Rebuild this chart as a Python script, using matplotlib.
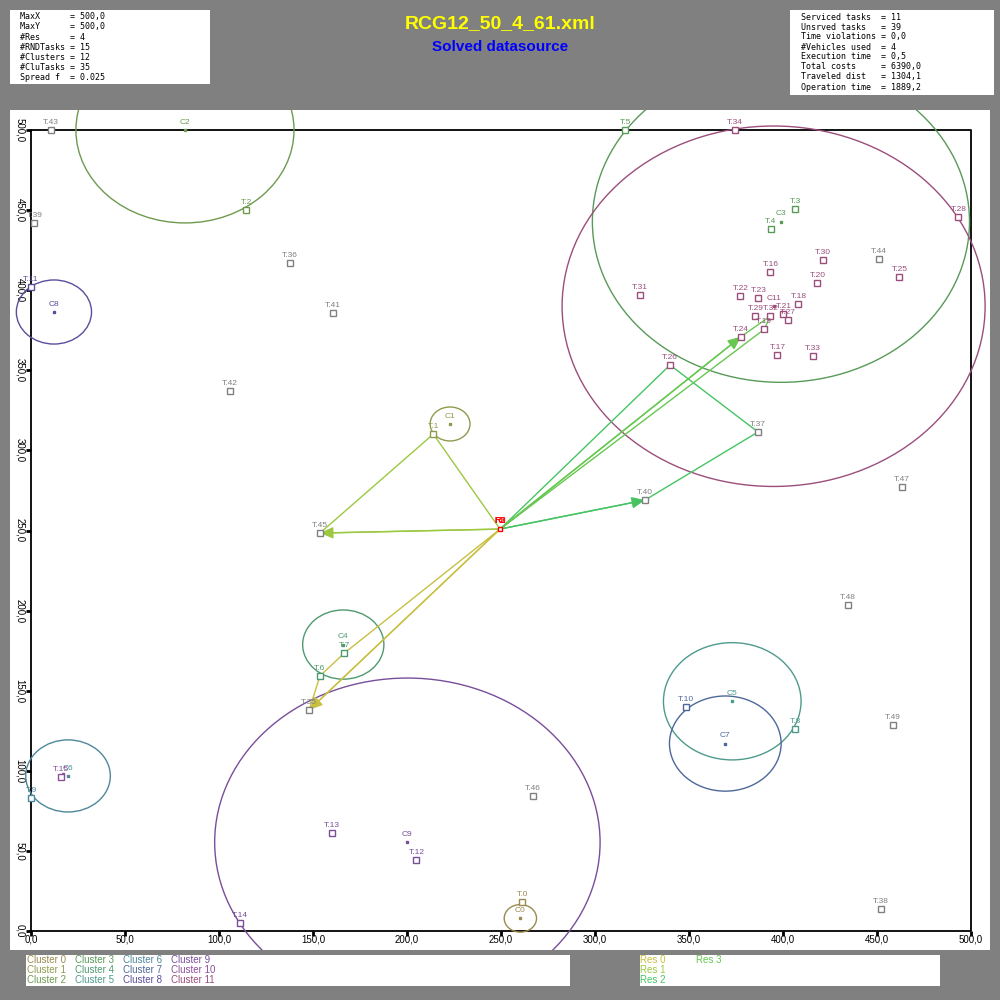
import matplotlib.pyplot as plt
from matplotlib.patches import Circle, Rectangle

# ---- data ----
task_x = [261.3, 214.0, 114.4, 406.6, 393.6, 316.0, 153.7, 166.5, 406.6, 0.0,
          348.6, 0.0, 205.0, 159.9, 111.3, 15.8, 393.3, 397.0, 408.2, 390.0,
          418.3, 400.2, 377.3, 386.9, 377.7, 461.9, 339.9, 402.8, 493.3, 385.3,
          421.4, 324.0, 393.3, 416.1, 374.5, 148.0, 137.9, 386.7, 452.1, 1.8,
          326.6, 160.6, 105.9, 10.6, 451.2, 153.7, 267.0, 463.3, 434.6, 458.5]
task_y = [17.9, 310.2, 450.1, 450.7, 438.0, 500.0, 159.2, 173.3, 125.9, 83.0,
          139.6, 402.2, 44.1, 61.0, 4.8, 96.3, 411.2, 359.4, 391.2, 375.6,
          404.3, 385.1, 396.2, 395.0, 371.0, 408.0, 353.3, 381.4, 445.5, 383.9,
          418.7, 397.0, 383.9, 358.9, 500.0, 138.0, 416.8, 311.5, 13.7, 441.8,
          269.0, 385.8, 337.1, 500.0, 419.3, 248.4, 84.3, 277.2, 203.5, 128.6]
# cluster of each task, -1 = random task
task_cluster = [0, 1, 2, 3, 3, 3, 4, 4, 5, 6, 7, 8, 9, 9, 9, 10] + [11] * 19 + [-1] * 15

clu_x = [260.3, 222.9, 81.9, 398.9, 166.1, 373.0, 19.7, 369.3, 12.2, 200.2, 17.0, 395.0]
clu_y = [7.9, 316.5, 500.0, 442.8, 178.8, 143.4, 96.8, 117.0, 386.4, 55.4, 98.0, 390.0]
clu_r = [8.6, 10.6, 58.0, 100.3, 21.6, 36.6, 22.5, 29.7, 20.0, 102.5, 0.0, 112.5]
clu_colors = ["#9a8a50", "#909a4e", "#6e9a50", "#589a58", "#4e9a70", "#4e9a8c",
              "#4e889a", "#4e689a", "#5a4e9a", "#784e9a", "#904e9a", "#9a4e7c"]

depot_x, depot_y = 249.5, 250.9
routes = [[35, 6, 7], [45, 1], [40, 37, 26], [24, 32, 19]]
res_colors = ["#c8c040", "#9cc840", "#46c464", "#66c850"]

info_left = ["MaxX      = 500,0", "MaxY      = 500,0", "#Res      = 4",
             "#RNDTasks = 15", "#Clusters = 12", "#CluTasks = 35", "Spread f  = 0.025"]
info_right = ["Serviced tasks  = 11", "Unsrved tasks   = 39", "Time violations = 0,0",
              "#Vehicles used  = 4", "Execution time  = 0,5", "Total costs     = 6390,0",
              "Traveled dist   = 1304,1", "Operation time  = 1889,2"]
ticks = [0, 50, 100, 150, 200, 250, 300, 350, 400, 450, 500]

gray = "#808080"

fig = plt.figure(figsize=(10, 10), dpi=100, facecolor=gray)


def box(x0, y0, x1, y1):
    fig.add_artist(Rectangle((x0 / 1000, 1 - y1 / 1000), (x1 - x0) / 1000, (y1 - y0) / 1000,
                             transform=fig.transFigure, facecolor="white", edgecolor="none"))


box(10, 10, 210, 84)
box(790, 10, 994, 95)
box(26, 955, 570, 986)
box(640, 955, 940, 986)

for i, s in enumerate(info_left):
    fig.text(20 / 1000, 1 - (17 + 10 * i) / 1000, s, family="DejaVu Sans Mono",
             fontsize=6, va="center", ha="left")
for i, s in enumerate(info_right):
    fig.text(801 / 1000, 1 - (17 + 10 * i) / 1000, s, family="DejaVu Sans Mono",
             fontsize=6, va="center", ha="left")

fig.text(0.5, 1 - 24 / 1000, "RCG12_50_4_61.xml", color="#ffff00", fontsize=14,
         fontweight="bold", family="Liberation Sans", ha="center", va="center")
fig.text(0.5, 1 - 47 / 1000, "Solved datasource", color="#0000ff", fontsize=11,
         fontweight="bold", family="Liberation Sans", ha="center", va="center")

for k in range(12):
    col, row = divmod(k, 3)
    fig.text((27 + 48 * col) / 1000, 1 - (960 + 10 * row) / 1000, f"Cluster {k}",
             color=clu_colors[k], fontsize=7, family="Liberation Sans", va="center")
res_pos = [(640, 960), (640, 970), (640, 980), (696, 960)]
for k, (px, py) in enumerate(res_pos):
    fig.text(px / 1000, 1 - py / 1000, f"Res {k}", color=res_colors[k], fontsize=7,
             family="Liberation Sans", va="center")

# plot area: white region 10..990 x 110..950 px, data origin at px (31, 931)
ax = fig.add_axes([0.01, 0.05, 0.98, 0.84])
ax.set_xlim(-11.17, 510.1)
ax.set_ylim(-11.86, 512.5)
ax.axis("off")
ax.add_patch(Rectangle((-20, -20), 600, 600, facecolor="white", edgecolor="none", zorder=0))

# frame and ticks
ax.plot([0, 500, 500, 0, 0], [0, 0, 500, 500, 0], color="black", lw=1.3, zorder=2)
for t in ticks:
    ax.plot([t, t], [0, -3.1], color="black", lw=2, zorder=2, solid_capstyle="butt")
    ax.plot([0, -2.7], [t, t], color="black", lw=2, zorder=2, solid_capstyle="butt")
    ax.text(t, -5.6, f"{t},0", fontsize=7, ha="center", va="center", family="Liberation Sans")
    ax.text(-5.85, t, f"{t},0", fontsize=7, ha="center", va="center", rotation=-90,
            family="Liberation Sans")

# cluster circles and centres
for k in range(12):
    if clu_r[k] > 0:
        ax.add_patch(Circle((clu_x[k], clu_y[k]), clu_r[k], fill=False,
                            edgecolor=clu_colors[k], lw=1, zorder=3))
    ax.plot(clu_x[k], clu_y[k], "s", ms=2, color=clu_colors[k], zorder=5)
    if clu_r[k] > 0:
        ax.annotate(f"C{k}", (clu_x[k], clu_y[k]), xytext=(0, 3), textcoords="offset points",
                    ha="center", va="bottom", fontsize=6, color=clu_colors[k],
                    family="Liberation Sans", zorder=7)

# routes
for r, stops in enumerate(routes):
    xs = [depot_x] + [task_x[i] for i in stops] + [depot_x]
    ys = [depot_y] + [task_y[i] for i in stops] + [depot_y]
    ax.plot(xs, ys, color=res_colors[r], lw=1, zorder=4)
    ax.annotate("", xy=(xs[1], ys[1]), xytext=(xs[0], ys[0]),
                arrowprops=dict(arrowstyle="-|>,head_length=0.8,head_width=0.35",
                                mutation_scale=10, color=res_colors[r], lw=1,
                                shrinkA=0, shrinkB=0), zorder=4)

# tasks
for i in range(50):
    c = gray if task_cluster[i] < 0 else clu_colors[task_cluster[i]]
    ax.plot(task_x[i], task_y[i], "s", ms=4.3, mfc="white", mec=c, mew=1, zorder=5)
    ax.annotate(f"T.{i}", (task_x[i], task_y[i]), xytext=(0, 3), textcoords="offset points",
                ha="center", va="bottom", fontsize=6, color=c, family="Liberation Sans",
                zorder=7)

# depot (all resources start here)
ax.plot(depot_x, depot_y, "s", ms=3, mfc="white", mec="red", mew=1, zorder=6)
for r in range(4):
    ax.annotate(f"R{r}", (depot_x, depot_y), xytext=(0, 3), textcoords="offset points",
                ha="center", va="bottom", fontsize=6.5, color="red", family="Liberation Sans",
                zorder=8)

fig.savefig("out.png", dpi=100, facecolor=gray)
